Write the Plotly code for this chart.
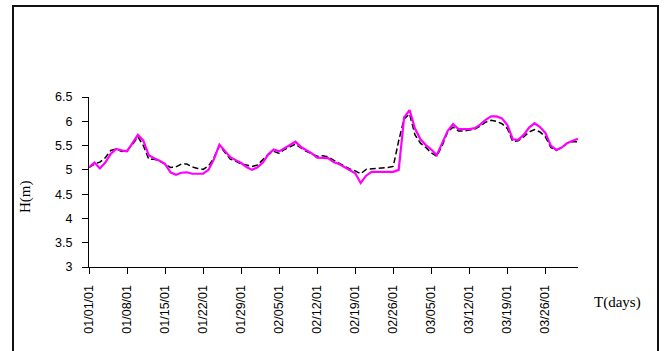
import pandas as pd
import plotly.graph_objects as go

# Daily water level H (m), 1 Jan 2001 to 1 Apr 2001
start_date = "2001-01-01"
observed = [
    5.05, 5.15, 5.03, 5.15, 5.33, 5.43, 5.40, 5.38, 5.55, 5.72,
    5.60, 5.30, 5.24, 5.19, 5.12, 4.95, 4.90, 4.94, 4.95, 4.92,
    4.92, 4.92, 5.00, 5.22, 5.52, 5.40, 5.26, 5.20, 5.14, 5.06,
    5.00, 5.05, 5.15, 5.32, 5.42, 5.38, 5.45, 5.52, 5.58, 5.47,
    5.40, 5.34, 5.25, 5.25, 5.24, 5.16, 5.12, 5.06, 5.00, 4.93,
    4.73, 4.88, 4.96, 4.96, 4.96, 4.96, 4.96, 5.00, 6.08, 6.23,
    5.85, 5.63, 5.51, 5.42, 5.30, 5.55, 5.80, 5.94, 5.84, 5.84,
    5.84, 5.86, 5.93, 6.03, 6.10, 6.10, 6.06, 5.92, 5.63, 5.62,
    5.72, 5.87, 5.96, 5.88, 5.76, 5.50, 5.41, 5.46, 5.55, 5.60,
    5.64,
]
simulated = [
    5.05, 5.12, 5.16, 5.25, 5.40, 5.43, 5.38, 5.40, 5.52, 5.68,
    5.50, 5.22, 5.22, 5.18, 5.12, 5.05, 5.06, 5.12, 5.12, 5.06,
    5.03, 5.01, 5.08, 5.25, 5.50, 5.35, 5.22, 5.18, 5.12, 5.10,
    5.07, 5.10, 5.20, 5.32, 5.38, 5.34, 5.42, 5.48, 5.53, 5.45,
    5.38, 5.33, 5.28, 5.29, 5.27, 5.20, 5.14, 5.08, 5.02, 4.98,
    4.92, 5.01, 5.02, 5.03, 5.03, 5.05, 5.07, 5.60, 6.05, 6.15,
    5.72, 5.55, 5.46, 5.35, 5.28, 5.50, 5.78, 5.88, 5.80, 5.80,
    5.82, 5.84, 5.90, 5.98, 6.02, 6.00, 5.95, 5.85, 5.58, 5.60,
    5.68, 5.78, 5.83, 5.78, 5.68, 5.46, 5.40, 5.46, 5.55, 5.58,
    5.58,
]
y_ticks = [3, 3.5, 4, 4.5, 5, 5.5, 6, 6.5]
y_tick_text = ["3", "3.5", "4", "4.5", "5", "5.5", "6", "6.5"]

dates = pd.date_range(start_date, periods=len(observed), freq="D")
x_ticks = pd.date_range(start_date, "2001-03-26", freq="7D")

fig = go.Figure()
fig.add_trace(go.Scatter(
    x=dates, y=simulated, mode="lines",
    line=dict(color="#000000", width=1.5, dash="6px,3px"),
    showlegend=False,
))
fig.add_trace(go.Scatter(
    x=dates, y=observed, mode="lines",
    line=dict(color="#FF00FF", width=2.2),
    showlegend=False,
))

axis_font = dict(family="Liberation Sans, Arial, sans-serif", size=12.5, color="#000000")
title_font = dict(family="Liberation Serif, Times New Roman, serif", size=15, color="#000000")

fig.update_layout(
    width=665, height=351,
    margin=dict(l=89, r=87, t=97, b=84),
    paper_bgcolor="white", plot_bgcolor="white",
    xaxis=dict(
        type="date",
        range=[dates[0], dates[-1]],
        tickvals=list(x_ticks),
        tickformat="%m/%d/%y",
        tickangle=-90,
        ticks="outside", ticklen=6, tickwidth=1, tickcolor="#000000",
        showline=True, linecolor="#000000", linewidth=1,
        showgrid=False, zeroline=False,
        tickfont=axis_font,
        ticklabelstandoff=6,
    ),
    yaxis=dict(
        range=[3, 6.5],
        tickvals=y_ticks, ticktext=y_tick_text,
        ticks="outside", ticklen=6, tickwidth=1, tickcolor="#000000",
        showline=True, linecolor="#000000", linewidth=1,
        showgrid=False, zeroline=False,
        tickfont=axis_font,
        ticklabelstandoff=7,
    ),
)

# Axis titles placed beside the axes
fig.add_annotation(
    text="H(m)", xref="paper", yref="paper",
    x=(25 - 89) / 489, y=(267 - 197) / 170,
    textangle=-90, showarrow=False, font=title_font,
    xanchor="center", yanchor="middle",
)
fig.add_annotation(
    text="T(days)", xref="paper", yref="paper",
    x=(617 - 89) / 489, y=(267 - 302) / 170,
    showarrow=False, font=title_font,
    xanchor="center", yanchor="middle",
)

# Chart frame
fig.add_shape(
    type="rect", xref="paper", yref="paper",
    x0=(13 - 89) / 489, x1=(658 - 89) / 489,
    y0=(267 - 380) / 170, y1=(267 - 6) / 170,
    line=dict(color="#111111", width=2), fillcolor="rgba(0,0,0,0)",
    layer="above",
)

fig.write_html("out.html")
